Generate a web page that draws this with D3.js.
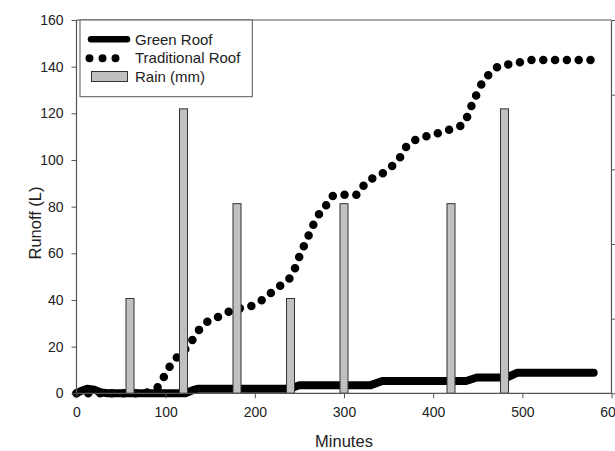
<!DOCTYPE html>
<html><head><meta charset="utf-8">
<script src="https://cdn.jsdelivr.net/npm/d3@7"></script>
<style>body{margin:0;background:#fff}svg{display:block}text{font-family:"Liberation Sans",Arial,sans-serif}</style>
</head><body><svg id="c" width="615" height="451"></svg>
<script>
const rainMinutes = [60,120,180,240,300,420,480];
const rainMm = [12.7,38.1,25.4,12.7,25.4,25.4,38.1];
const tradMinutes = [0,75,85,92,100,107,117,127,135,148,161,174,188,201,214,228,239,246,251,257,263,269,279,286,301,314,325,338,351,363,371,383,396,410,423,435,440,446,452,461,473,486,499,512,580];
const tradRunoff = [0,0,1.5,3,8.5,13,17,21,26,31,33,35.5,36.8,38.1,41.8,46,49.3,54.4,59.7,64.7,70,75,80,84.5,85.1,85.1,90.6,93.1,96.4,101.2,106.3,109,110.6,112,113.6,115.6,120.6,125.7,131,136,140,141.1,142,142.9,142.9];
const greenMinutes = [0,5,12,20,28,35,122,132,137,240,250,330,343,437,449,483,494,580];
const greenRunoff = [0,1,2,1.5,0.3,0,0,1.6,2,2,3.5,3.5,5.3,5.3,6.8,6.8,8.8,8.8];
const xTicks = [0,100,200,300,400,500,600];
const yTicks = [0,20,40,60,80,100,120,140,160];
const rainTicks = [0,10,20,30,40,50];
const legendLabels = ["Green Roof","Traditional Roof","Rain (mm)"];

const svg = d3.select("#c");
const L = 76.5, R = 611.5, T = 20, B = 393.3;
const x = d3.scaleLinear().domain([0,600]).range([L,R]);
const y = d3.scaleLinear().domain([0,160]).range([B,T]);
const y2 = d3.scaleLinear().domain([0,50]).range([B,T]);
const axisCol = "#555", txtCol = "#222";

// frame top
svg.append("line").attr("x1",L).attr("x2",R).attr("y1",T).attr("y2",T).attr("stroke",axisCol).attr("stroke-width",1);

// lines
const green = greenMinutes.map((m,i)=>[m,greenRunoff[i]]);
const trad = tradMinutes.map((m,i)=>[m,tradRunoff[i]]);
svg.append("path").attr("d",d3.line().x(d=>x(d[0])).y(d=>y(d[1])).curve(d3.curveMonotoneX)(trad)).attr("fill","none").attr("stroke","#000")
  .attr("stroke-width",8.5).attr("stroke-linecap","round").attr("stroke-dasharray","0 11.8");
svg.append("path").attr("d",d3.line().x(d=>x(d[0])).y(d=>y(d[1]))(green)).attr("fill","none").attr("stroke","#000")
  .attr("stroke-width",8).attr("stroke-linecap","round").attr("stroke-linejoin","round");

// bars
const bw = 8;
svg.selectAll("rect.rain").data(rainMinutes).enter().append("rect").attr("class","rain")
  .attr("x",d=>x(d)-bw/2).attr("width",bw)
  .attr("y",(d,i)=>y2(rainMm[i])).attr("height",(d,i)=>B-y2(rainMm[i]))
  .attr("fill","#c0c0c0").attr("stroke","#333").attr("stroke-width",1);

// axes
const gx = svg.append("g").attr("transform",`translate(0,${B})`)
  .call(d3.axisBottom(x).tickValues(xTicks).tickSize(5).tickPadding(9).tickFormat(d3.format("d")));
const gy = svg.append("g").attr("transform",`translate(${L},0)`)
  .call(d3.axisLeft(y).tickValues(yTicks).tickSize(5).tickPadding(8).tickFormat(d3.format("d")));
const gy2 = svg.append("g").attr("transform",`translate(${R},0)`)
  .call(d3.axisRight(y2).tickValues(rainTicks).tickSize(5).tickFormat(""));
[gx,gy,gy2].forEach(g=>{
  g.select(".domain").attr("stroke",axisCol).attr("stroke-width",1.2).attr("d",
    g===gx?`M${L},0H${R}`:`M0,${T}V${B}`);
  g.selectAll(".tick line").attr("stroke",axisCol).attr("stroke-width",1);
  g.selectAll(".tick text").attr("fill",txtCol).style("font-size","14px").style("font-family","'Liberation Sans',Arial,sans-serif");
});

// axis titles
svg.append("text").attr("x",(L+R)/2 - 0).attr("y",446.5).attr("text-anchor","middle")
  .attr("fill",txtCol).style("font-size","16.5px").text("Minutes");
svg.append("text").attr("transform","translate(41,223) rotate(-90)").attr("text-anchor","middle")
  .attr("fill",txtCol).style("font-size","16.5px").text("Runoff (L)");

// legend
const lg = svg.append("g");
lg.append("rect").attr("x",80).attr("y",T).attr("width",172.3).attr("height",76.7)
  .attr("fill","#fff").attr("stroke",axisCol).attr("stroke-width",1);
lg.append("line").attr("x1",91).attr("x2",127).attr("y1",39.3).attr("y2",39.3)
  .attr("stroke","#000").attr("stroke-width",6.5).attr("stroke-linecap","round");
lg.append("path").attr("d","M89.5,58.3H116").attr("stroke","#000").attr("stroke-width",8)
  .attr("stroke-linecap","round").attr("stroke-dasharray","0 13");
lg.append("rect").attr("x",91.5).attr("y",71.5).attr("width",36).attr("height",10)
  .attr("fill","#c0c0c0").attr("stroke","#333").attr("stroke-width",1);
const ly = [44.5,63,82];
legendLabels.forEach((t,i)=>lg.append("text").attr("x",135).attr("y",ly[i]).attr("fill",txtCol)
  .style("font-size","15px").text(t));
</script></body></html>
